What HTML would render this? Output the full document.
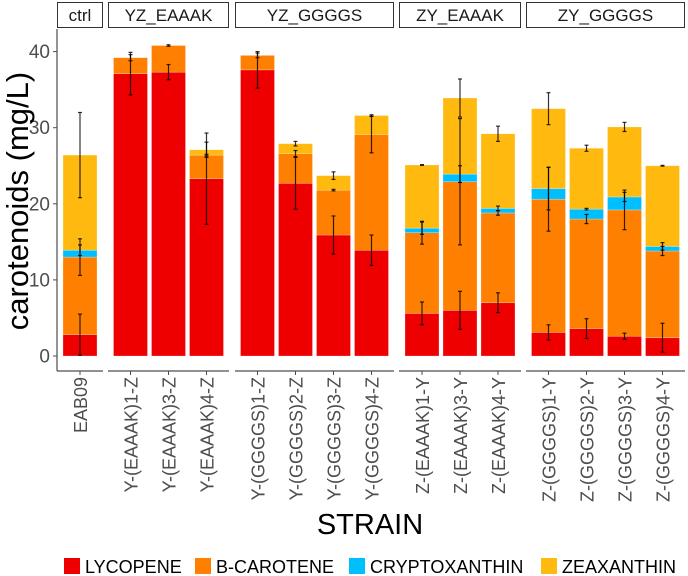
<!DOCTYPE html>
<html><head><meta charset="utf-8"><style>
body{margin:0;background:#fff;}
svg{display:block;font-family:"Liberation Sans",sans-serif;}
</style></head><body>
<svg id="chart" width="688" height="576" viewBox="0 0 688 576"></svg>
<script>
const panels = ["ctrl","YZ_EAAAK","YZ_GGGGS","ZY_EAAAK","ZY_GGGGS"];
const panelX = [[57,103],[108,229],[235,394],[399,521],[526,685]];
const strains = ["EAB09","Y-(EAAAK)1-Z","Y-(EAAAK)3-Z","Y-(EAAAK)4-Z","Y-(GGGGS)1-Z","Y-(GGGGS)2-Z","Y-(GGGGS)3-Z","Y-(GGGGS)4-Z","Z-(EAAAK)1-Y","Z-(EAAAK)3-Y","Z-(EAAAK)4-Y","Z-(GGGGS)1-Y","Z-(GGGGS)2-Y","Z-(GGGGS)3-Y","Z-(GGGGS)4-Y"];
const strainPanel = [0,1,1,1,2,2,2,2,3,3,3,4,4,4,4];
const lycopene     = [2.8,37.1,37.3,23.3,37.6,22.7,15.9,13.9,5.6,6.0,7.0,3.1,3.6,2.6,2.4];
const bcarotene    = [10.2,2.1,3.5,3.1,1.9,3.9,5.9,15.2,10.6,16.9,11.8,17.5,14.4,16.6,11.4];
const crypto       = [0.9,0,0,0,0,0,0,0,0.6,1.0,0.6,1.4,1.3,1.7,0.6];
const zeaxanthin   = [12.5,0,0,0.7,0,1.3,1.9,2.5,8.3,10.0,9.8,10.5,8.0,9.2,10.6];
const lycopeneErr  = [2.7,2.8,1.0,6.0,2.4,3.4,2.5,2.0,1.5,2.5,1.3,1.0,1.3,0.4,1.9];
const bcaroteneErr = [2.4,0.4,0.1,0.1,0.3,0.4,0.1,2.4,1.5,8.3,0.3,4.2,0.6,2.6,0.6];
const cryptoErr    = [0.7,0,0,0,0,0,0,0,0.8,1.1,0.3,2.8,0.1,0.6,0.5];
const zeaxanthinErr= [5.6,0,0,1.0,0,0.3,0.5,0.1,0.05,2.5,1.0,2.1,0.4,0.6,0.05];
const yTicks = [0,10,20,30,40];
const seriesNames = ["LYCOPENE","B-CAROTENE","CRYPTOXANTHIN","ZEAXANTHIN"];
const seriesColors = ["#EE0000","#FF7F00","#00BFFF","#FFB90F"];

const NS="http://www.w3.org/2000/svg";
const svg=document.getElementById('chart');
function mk(tag,attrs,parent){const e=document.createElementNS(NS,tag);for(const k in attrs)e.setAttribute(k,attrs[k]);(parent||svg).appendChild(e);return e;}
const y0=356, pxPerUnit=7.61;
function yScale(v){return y0-v*pxPerUnit;}
const barW=34, pitch=38;
function xCenter(i){
  const p=strainPanel[i];
  let k=0; for(let j=0;j<i;j++) if(strainPanel[j]===p) k++;
  const n=strainPanel.filter(q=>q===p).length;
  const [a,b]=panelX[p]; const mid=(a+b)/2;
  return mid+(k-(n-1)/2)*pitch;
}
const panelTop=29, panelBot=371;
panels.forEach((name,p)=>{
  const [a,b]=panelX[p];
  const s=mk('rect',{x:a+0.5,y:2.5,width:b-a-1,height:25,fill:'#fff',stroke:'#333','stroke-width':1});
  
  
  const t=mk('text',{x:(a+b)/2,y:21,'text-anchor':'middle','font-size':17,fill:'#1a1a1a'});
  t.textContent=name;
  
  
  const ax=mk('line',{x1:a,x2:b,y1:panelBot,y2:panelBot,stroke:'#4d4d4d','stroke-width':1.2});
  
  
});
const yl=mk('line',{x1:57,x2:57,y1:panelTop,y2:panelBot,stroke:'#4d4d4d','stroke-width':1.2});


yTicks.forEach(v=>{
  const y=yScale(v);
  const tk=mk('line',{x1:53,x2:57,y1:y,y2:y,stroke:'#4d4d4d'});
  
  
  const t=mk('text',{x:50,y:y+6.5,'text-anchor':'end','font-size':19,fill:'#4d4d4d'});
  t.textContent=v;
  
  
});
const yt=mk('text',{x:0,y:0,transform:'translate(28,201) rotate(-90)','text-anchor':'middle','font-size':31,fill:'#000'});
yt.textContent='carotenoids (mg/L)';


const series=[lycopene,bcarotene,crypto,zeaxanthin];
const errs=[lycopeneErr,bcaroteneErr,cryptoErr,zeaxanthinErr];
strains.forEach((st,i)=>{
  const cx=xCenter(i);
  let cum=0; const tops=[];
  series.forEach((arr,s)=>{
    const v=arr[i]; const top=cum+v;
    if(v>0){
      const r=mk('rect',{x:cx-barW/2,y:yScale(top),width:barW,height:v*pxPerUnit,fill:seriesColors[s],stroke:'#fff','stroke-opacity':0.4,'stroke-width':0.6});
      
      
    }
    tops.push([top,v]); cum=top;
  });
  tops.forEach(([top,v],s)=>{
    if(v<=0) return;
    const e=errs[s][i];
    const y1=yScale(top-e), y2=yScale(top+e);
    const g=mk('g',{stroke:'#000','stroke-width':1.2,'stroke-opacity':0.8});
    
    
    mk('line',{x1:cx,x2:cx,y1:y1,y2:y2},g);
    mk('line',{x1:cx-2,x2:cx+2,y1:y1,y2:y1},g);
    mk('line',{x1:cx-2,x2:cx+2,y1:y2,y2:y2},g);
  });
  const tk=mk('line',{x1:cx,x2:cx,y1:panelBot,y2:panelBot+4,stroke:'#4d4d4d'});
  
  
  const t=mk('text',{x:0,y:0,transform:`translate(${cx+7},377) rotate(-90)`,'text-anchor':'end','font-size':18,fill:'#4d4d4d'});
  t.textContent=st;
  
  
});
const xt=mk('text',{x:370,y:534,'text-anchor':'middle','font-size':29,fill:'#000'});
xt.textContent='STRAIN';


const legX=[64,195,349,541];
seriesNames.forEach((n,s)=>{
  const g=mk('g',{});
  
  
  mk('rect',{x:legX[s],y:558,width:16,height:16,fill:seriesColors[s]},g);
  const t=mk('text',{x:legX[s]+21,y:573,'font-size':18,fill:'#000'},g);
  t.textContent=n;
});
</script>
</body></html>
